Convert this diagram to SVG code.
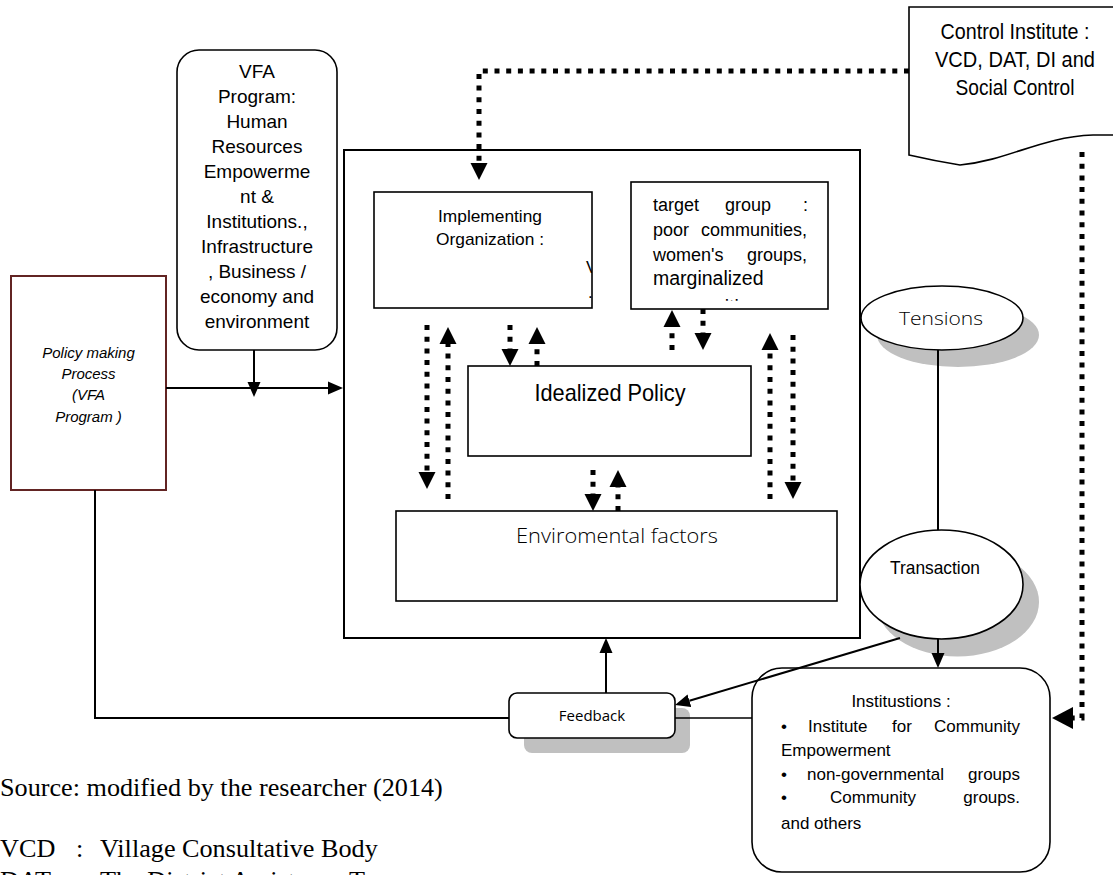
<svg xmlns="http://www.w3.org/2000/svg" width="1113" height="875" viewBox="0 0 1113 875">
  <defs>
    <style>
      .box { fill: #ffffff; stroke: #000000; stroke-width: 1.6; }
      .frame { fill: #ffffff; stroke: #000000; stroke-width: 2; }
      .shadow { fill: #c0c0c0; stroke: none; }
      .solid { fill: none; stroke: #000000; stroke-width: 2; }
      .thin { fill: none; stroke: #000000; stroke-width: 1.5; }
      .dotted { fill: none; stroke: #000000; stroke-width: 5; stroke-dasharray: 5 6.7; }
      .arial { font-family: "Liberation Sans", Arial, sans-serif; fill: #000000; }
      .humanist { font-family: "Open Sans", "Noto Sans", sans-serif; font-weight: 360; fill: #000000; }
      .serif { font-family: "Liberation Serif", "Times New Roman", serif; fill: #000000; }
    </style>
    <marker id="headDot" markerUnits="userSpaceOnUse" viewBox="0 -9 17 18" markerWidth="17" markerHeight="18" refX="0" refY="0" orient="auto">
      <path d="M0,-8.5 L17,0 L0,8.5 Z" fill="#000000"/>
    </marker>
    <marker id="headBig" markerUnits="userSpaceOnUse" viewBox="0 -11 21 22" markerWidth="21" markerHeight="22" refX="0" refY="0" orient="auto">
      <path d="M0,-11 L21,0 L0,11 Z" fill="#000000"/>
    </marker>
    <marker id="headSolid" markerUnits="userSpaceOnUse" viewBox="0 -7 15 14" markerWidth="15" markerHeight="14" refX="0" refY="0" orient="auto">
      <path d="M0,-6.5 L15,0 L0,6.5 Z" fill="#000000"/>
    </marker>
    <clipPath id="clipImpl"><rect x="374" y="192" width="218" height="116"/></clipPath>
    <clipPath id="clipTarget"><rect x="631" y="182" width="197" height="119"/></clipPath>
  </defs>

  <rect x="0" y="0" width="1113" height="875" fill="#ffffff"/>

  <!-- control institute (document shape) -->
  <g id="control-institute">
    <path class="box" d="M1116,7 H909 V155 Q935,161 960,165 C1010,160 1040,137 1093,135 H1116"/>
    <text class="arial" font-size="22" text-anchor="middle" x="1015" y="39" textLength="149" lengthAdjust="spacingAndGlyphs">Control Institute :</text>
    <text class="arial" font-size="22" text-anchor="middle" x="1015" y="67" textLength="160" lengthAdjust="spacingAndGlyphs">VCD, DAT, DI and</text>
    <text class="arial" font-size="22" text-anchor="middle" x="1015" y="95" textLength="119" lengthAdjust="spacingAndGlyphs">Social Control</text>
  </g>

  <!-- VFA program -->
  <g id="vfa-program">
    <rect class="box" x="177" y="50" width="160" height="300" rx="22" ry="22"/>
    <g class="arial" font-size="19" text-anchor="middle">
      <text x="257" y="78">VFA</text>
      <text x="257" y="103">Program:</text>
      <text x="257" y="128">Human</text>
      <text x="257" y="153">Resources</text>
      <text x="257" y="178">Empowerme</text>
      <text x="257" y="203">nt &amp;</text>
      <text x="257" y="228">Institutions.,</text>
      <text x="257" y="253">Infrastructure</text>
      <text x="257" y="278">, Business /</text>
      <text x="257" y="303">economy and</text>
      <text x="257" y="328">environment</text>
    </g>
  </g>

  <!-- policy making process -->
  <g id="policy-making">
    <rect x="11" y="276" width="155" height="214" fill="#ffffff" stroke="#622423" stroke-width="2"/>
    <g class="arial" font-size="15" font-style="italic" text-anchor="middle">
      <text x="88.5" y="358">Policy making</text>
      <text x="88.5" y="379">Process</text>
      <text x="88.5" y="400">(VFA</text>
      <text x="88.5" y="422">Program )</text>
    </g>
  </g>

  <!-- implementation frame -->
  <g id="implementation-frame">
    <rect class="frame" x="344" y="150" width="516" height="488"/>
  </g>

  <g id="implementing-organization">
    <rect class="box" x="374" y="192" width="218" height="116"/>
    <text class="arial" font-size="17" text-anchor="middle" x="490" y="222" textLength="104" lengthAdjust="spacingAndGlyphs">Implementing</text>
    <text class="arial" font-size="17" text-anchor="middle" x="490" y="245" textLength="108" lengthAdjust="spacingAndGlyphs">Organization :</text>
    <g clip-path="url(#clipImpl)">
      <text class="arial" font-size="17" x="586" y="273">V</text>
      <text class="arial" font-size="17" x="588" y="298">.</text>
    </g>
  </g>

  <g id="target-group">
    <rect class="box" x="631" y="182" width="197" height="127"/>
    <g class="arial" font-size="18">
      <text x="653" y="211">target</text>
      <text x="725" y="211">group</text>
      <text x="808" y="211" text-anchor="end">:</text>
      <text x="653" y="236">poor</text>
      <text x="807" y="236" text-anchor="end">communities,</text>
      <text x="653" y="261">women's</text>
      <text x="807" y="261" text-anchor="end">groups,</text>
    </g>
    <text class="arial" font-size="19.5" x="653" y="285">marginalized</text>
    <g clip-path="url(#clipTarget)">
      <text class="arial" font-size="19.5" x="650" y="313.5">communities</text>
    </g>
  </g>

  <g id="idealized-policy">
    <rect class="box" x="468" y="366" width="283" height="90"/>
    <text class="arial" font-size="24" text-anchor="middle" x="610" y="401" textLength="151" lengthAdjust="spacingAndGlyphs">Idealized Policy</text>
  </g>

  <g id="environmental-factors">
    <rect class="box" x="396" y="511" width="441" height="90"/>
    <text class="humanist" font-size="21" text-anchor="middle" x="617" y="543" textLength="202" lengthAdjust="spacingAndGlyphs">Enviromental factors</text>
  </g>

  <!-- tensions -->
  <g id="tensions">
    <ellipse class="shadow" cx="958" cy="335" rx="81" ry="32"/>
    <ellipse class="box" cx="942" cy="318" rx="81" ry="32"/>
    <text class="humanist" font-size="18.5" text-anchor="middle" x="941" y="325" textLength="84" lengthAdjust="spacingAndGlyphs">Tensions</text>
  </g>

  <!-- transaction -->
  <g id="transaction">
    <ellipse class="shadow" cx="957.5" cy="602" rx="81.5" ry="54.5"/>
    <ellipse class="box" cx="941.5" cy="584.5" rx="81.5" ry="54.5"/>
    <text class="arial" font-size="19" text-anchor="middle" x="935" y="574" textLength="90" lengthAdjust="spacingAndGlyphs">Transaction</text>
  </g>

  <!-- feedback -->
  <g id="feedback">
    <rect class="shadow" x="524" y="708" width="166" height="45" rx="8" ry="8"/>
    <rect class="box" x="509" y="693" width="166" height="45" rx="8" ry="8"/>
    <text font-family="'Open Sans', 'DejaVu Sans', sans-serif" font-size="15" text-anchor="middle" x="592" y="721">Feedback</text>
  </g>

  <!-- institutions -->
  <g id="institutions">
    <rect class="box" x="752" y="668" width="298" height="204" rx="30" ry="30"/>
    <g class="arial" font-size="17">
      <text x="901" y="707" text-anchor="middle">Institustions :</text>
      <text x="781" y="732">•</text>
      <text x="808" y="732">Institute</text>
      <text x="892" y="732">for</text>
      <text x="1020" y="732" text-anchor="end">Community</text>
      <text x="781" y="756">Empowerment</text>
      <text x="781" y="780">•</text>
      <text x="807" y="780">non-governmental</text>
      <text x="1020" y="780" text-anchor="end">groups</text>
      <text x="781" y="803">•</text>
      <text x="830" y="803">Community</text>
      <text x="1020" y="803" text-anchor="end">groups.</text>
      <text x="781" y="829">and others</text>
    </g>
  </g>

  <!-- connectors -->
  <g id="connectors">
    <!-- control institute to implementing organization / institutions -->
    <path class="dotted" d="M909,71 H479 V163" marker-end="url(#headDot)"/>
    <path class="dotted" d="M1082,152 V718 H1073" marker-end="url(#headBig)"/>
    <!-- implementing organization <-> environmental factors -->
    <path class="dotted" d="M427,325 V472" marker-end="url(#headDot)"/>
    <path class="dotted" d="M448,499 V344" marker-end="url(#headDot)"/>
    <!-- implementing organization <-> idealized policy -->
    <path class="dotted" d="M510,325 V349" marker-end="url(#headDot)"/>
    <path class="dotted" d="M537,366 V344" marker-end="url(#headDot)"/>
    <!-- target group <-> idealized policy -->
    <path class="dotted" d="M672,350 V327" marker-end="url(#headDot)"/>
    <path class="dotted" d="M703,309 V333" marker-end="url(#headDot)"/>
    <!-- target group <-> environmental factors -->
    <path class="dotted" d="M770,499 V350" marker-end="url(#headDot)"/>
    <path class="dotted" d="M793,335 V482" marker-end="url(#headDot)"/>
    <!-- idealized policy <-> environmental factors -->
    <path class="dotted" d="M593,470 V494" marker-end="url(#headDot)"/>
    <path class="dotted" d="M618,511 V487" marker-end="url(#headDot)"/>

    <!-- policy making into the frame -->
    <path class="solid" d="M166,388 H328" marker-end="url(#headSolid)"/>
    <path class="solid" d="M254,350 V382" marker-end="url(#headSolid)"/>
    <!-- feedback loop -->
    <path class="solid" d="M95,490 V718 H509"/>
    <path class="thin" d="M675,718 H752"/>
    <path class="solid" d="M606,693 V653" marker-end="url(#headSolid)"/>
    <!-- tensions / transaction -->
    <path class="solid" d="M938,350 V530"/>
    <path class="solid" d="M938,639 V653" marker-end="url(#headSolid)"/>
    <path class="solid" d="M900,638 L689.4,700.7" marker-end="url(#headSolid)"/>
  </g>

  <!-- notes -->
  <g id="notes" class="serif" font-size="26.2">
    <text x="0" y="796">Source: modified by the researcher (2014)</text>
    <text x="0" y="857">VCD</text>
    <text x="76" y="857">:</text>
    <text x="100" y="857">Village Consultative Body</text>
    <text x="0" y="889">DAT</text>
    <text x="76" y="889">:</text>
    <text x="100" y="889">The District Assistance Team</text>
  </g>
</svg>
